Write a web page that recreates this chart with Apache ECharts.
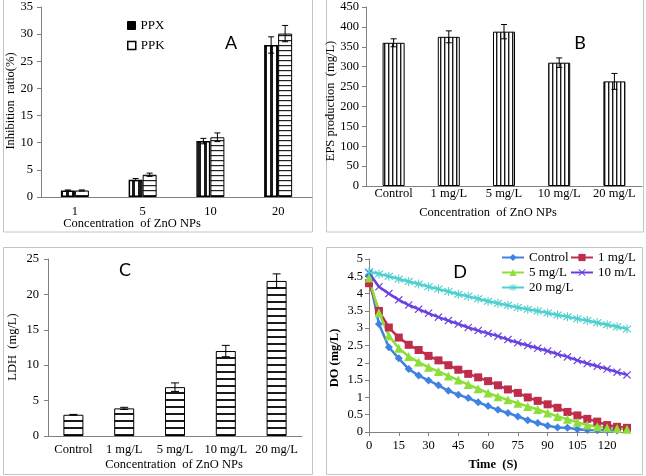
<!DOCTYPE html>
<html><head><meta charset="utf-8">
<script src="https://cdn.jsdelivr.net/npm/echarts@6/dist/echarts.min.js"></script>
<style>html,body{margin:0;padding:0;background:#fff}#c{width:646px;height:476px}</style>
</head><body><div id="c"></div>
<script>
// ---- Panel A ----
var catsA = ['1', '5', '10', '20'];
var ppx = [1.2, 3.2, 10.3, 28.0];
var ppxErr = [0.1, 0.2, 0.5, 1.5];
var ppk = [1.2, 4.1, 11.0, 30.1];
var ppkErr = [0.1, 0.3, 0.8, 1.5];
// ---- Panel B ----
var catsB = ['Control', '1 mg/L', '5 mg/L', '10 mg/L', '20 mg/L'];
var eps = [360, 375, 388, 310, 263];
var epsErr = [10, 15, 18, 12, 20];
// ---- Panel C ----
var catsC = ['Control', '1 mg/L', '5 mg/L', '10 mg/L', '20 mg/L'];
var ldh = [3.0, 3.9, 6.9, 12.0, 21.9];
var ldhErr = [0.05, 0.15, 0.6, 0.8, 1.0];
// ---- Panel D ----
var timeS = [0,5,10,15,20,25,30,35,40,45,50,55,60,65,70,75,80,85,90,95,100,105,110,115,120,125,130];
var doControl = [4.5,3.12,2.45,2.13,1.82,1.63,1.49,1.35,1.19,1.08,0.98,0.86,0.75,0.64,0.55,0.45,0.34,0.26,0.18,0.13,0.12,0.08,0.06,0.05,0.05,0.04];
var do1 = [4.3,3.5,3.02,2.73,2.52,2.37,2.2,2.07,1.93,1.8,1.68,1.58,1.47,1.35,1.23,1.13,1.0,0.9,0.8,0.7,0.58,0.48,0.38,0.3,0.2,0.15,0.12];
var do5 = [4.45,3.45,2.78,2.42,2.18,2.02,1.87,1.75,1.62,1.5,1.37,1.25,1.13,1.02,0.93,0.83,0.74,0.65,0.55,0.45,0.37,0.28,0.2,0.15,0.12,0.1,0.08];
var do10 = [4.6,4.2,4.0,3.82,3.67,3.55,3.43,3.32,3.22,3.12,3.02,2.93,2.85,2.77,2.67,2.58,2.5,2.42,2.34,2.25,2.17,2.07,1.98,1.9,1.82,1.73,1.65];
var do20 = [4.63,4.57,4.5,4.42,4.35,4.28,4.2,4.13,4.06,3.98,3.92,3.85,3.78,3.72,3.66,3.6,3.55,3.5,3.44,3.38,3.33,3.27,3.22,3.16,3.1,3.04,2.98];

var SERIF = '"Liberation Serif","Times New Roman",serif';
var SANS = 'Lato,"Liberation Sans",sans-serif';
var FS = 12.5;

function stripe(w, h, vertical, lw, col) {
  var c = document.createElement('canvas'); c.width = w; c.height = h;
  var g = c.getContext('2d'); g.fillStyle = '#fff'; g.fillRect(0, 0, w, h);
  g.fillStyle = col;
  if (vertical) g.fillRect(0, 0, lw, h); else g.fillRect(0, 0, w, lw);
  return { image: c, repeat: 'repeat' };
}
function pairs(arr) { return arr.map(function (v, i) { return [timeS[i], v]; }); }
function errData(vals, errs) { return vals.map(function (v, i) { return [i, v, errs[i]]; }); }
function errRender(offset, cap) {
  return function (params, api) {
    var i = api.value(0), v = api.value(1), e = api.value(2);
    var t = api.coord([i, v + e]), b = api.coord([i, v - e]);
    var x = t[0] + offset;
    var st = { stroke: '#000', lineWidth: 1 };
    return { type: 'group', children: [
      { type: 'line', shape: { x1: x, y1: t[1], x2: x, y2: b[1] }, style: st },
      { type: 'line', shape: { x1: x - cap, y1: t[1], x2: x + cap, y2: t[1] }, style: st },
      { type: 'line', shape: { x1: x - cap, y1: b[1], x2: x + cap, y2: b[1] }, style: st }
    ]};
  };
}

var axisCol = '#808080';
function yAx(grid, max, interval, margin) {
  return { type: 'value', gridIndex: grid, min: 0, max: max, interval: interval,
    axisLine: { show: true, lineStyle: { color: axisCol } },
    axisTick: { show: true, length: 4, lineStyle: { color: axisCol } },
    splitLine: { show: false },
    axisLabel: { color: '#000', fontFamily: SERIF, fontSize: FS, margin: margin } };
}
function xCat(grid, data, margin) {
  return { type: 'category', gridIndex: grid, data: data,
    axisLine: { show: true, lineStyle: { color: axisCol } },
    axisTick: { show: false },
    axisLabel: { color: '#000', fontFamily: SERIF, fontSize: FS, margin: margin, interval: 0 } };
}

var XSHAPE = 'path://M1,0L5,4L9,0L10,1L6,5L10,9L9,10L5,6L1,10L0,9L4,5L0,1Z';
var STAR = 'path://M1,0L5,4L9,0L10,1L6,5L10,9L9,10L5,6L1,10L0,9L4,5L0,1ZM4.4,-1H5.6V11H4.4Z';

var colD = { c: '#3f82e0', m1: '#be2d4c', m5: '#8ede3a', m10: '#6a3fe0', m20: '#4fd0cf' };

function lineS(name, data, color, symbol, size) {
  return { type: 'line', name: name, xAxisIndex: 3, yAxisIndex: 3, data: data,
    symbol: symbol, symbolSize: size, showAllSymbol: true,
    lineStyle: { color: color, width: 2.5 }, itemStyle: { color: color } };
}
function legendAt(name, left, top, extra) {
  var o = { data: [name], left: left, top: top, padding: 0, itemGap: 0,
    textStyle: { fontFamily: SERIF, fontSize: 13, color: '#000' }, selectedMode: false };
  for (var k in extra) o[k] = extra[k];
  return o;
}

var legItemD = { itemWidth: 22, itemHeight: 9 };

var chart = echarts.init(document.getElementById('c'), null, { renderer: 'canvas' });
chart.setOption({
  animation: false,
  backgroundColor: '#fff',
  grid: [
    { left: 41, top: 7, width: 271, height: 190 },
    { left: 366, top: 7, width: 276, height: 179 },
    { left: 48, top: 259, width: 254, height: 177 },
    { left: 369, top: 259, width: 258, height: 173 }
  ],
  xAxis: [
    xCat(0, catsA, 8),
    xCat(1, catsB, 1),
    xCat(2, catsC, 7),
    { type: 'value', gridIndex: 3, min: 0, max: 130, interval: 15,
      axisLine: { show: true, onZero: false, lineStyle: { color: axisCol } },
      axisTick: { show: true, length: 4, lineStyle: { color: axisCol } },
      splitLine: { show: false },
      axisLabel: { color: '#000', fontFamily: SERIF, fontSize: FS, margin: 7, showMaxLabel: false } }
  ],
  yAxis: [ yAx(0, 35, 5, 8), yAx(1, 450, 50, 7), yAx(2, 25, 5, 9), yAx(3, 5, 0.5, 6) ],
  legend: [
    { data: [{ name: 'PPX', itemStyle: { color: '#000', borderColor: '#000', borderWidth: 1 } }],
      left: 127, top: 19, padding: 0, itemWidth: 8, itemHeight: 8, icon: 'rect', selectedMode: false,
      textStyle: { fontFamily: SERIF, fontSize: 13, color: '#000' }, itemGap: 0 },
    { data: [{ name: 'PPK', itemStyle: { color: '#fff', borderColor: '#000', borderWidth: 1.5 } }],
      left: 127, top: 39, padding: 0, itemWidth: 8, itemHeight: 8, icon: 'rect', selectedMode: false,
      textStyle: { fontFamily: SERIF, fontSize: 13, color: '#000' }, itemGap: 0 },
    legendAt('Control', 501, 251, legItemD),
    legendAt('1 mg/L', 570, 251, legItemD),
    legendAt('5 mg/L', 501, 266, legItemD),
    legendAt('10 m/L', 570, 266, legItemD),
    legendAt('20 mg/L', 501, 281, legItemD)
  ],
  series: [
    { type: 'bar', name: 'PPX', xAxisIndex: 0, yAxisIndex: 0, data: ppx, barWidth: 14, barGap: '0%',
      itemStyle: { color: stripe(6, 6, true, 3, '#1a1a1a'), borderColor: '#000', borderWidth: 1.5 } },
    { type: 'bar', name: 'PPK', xAxisIndex: 0, yAxisIndex: 0, data: ppk, barWidth: 14, barGap: '0%',
      itemStyle: { color: stripe(5, 5, false, 1.2, '#222'), borderColor: '#000', borderWidth: 1 } },
    { type: 'custom', xAxisIndex: 0, yAxisIndex: 0, data: errData(ppx, ppxErr), renderItem: errRender(-7, 3), z: 5 },
    { type: 'custom', xAxisIndex: 0, yAxisIndex: 0, data: errData(ppk, ppkErr), renderItem: errRender(7, 3), z: 5 },
    { type: 'bar', name: 'EPS', xAxisIndex: 1, yAxisIndex: 1, data: eps, barWidth: 22,
      itemStyle: { color: stripe(4, 4, true, 1.4, '#1a1a1a'), borderColor: '#000', borderWidth: 1 } },
    { type: 'custom', xAxisIndex: 1, yAxisIndex: 1, data: errData(eps, epsErr), renderItem: errRender(0, 3), z: 5 },
    { type: 'bar', name: 'LDH', xAxisIndex: 2, yAxisIndex: 2, data: ldh, barWidth: 20,
      itemStyle: { color: stripe(7, 7, false, 2, '#1a1a1a'), borderColor: '#000', borderWidth: 1 } },
    { type: 'custom', xAxisIndex: 2, yAxisIndex: 2, data: errData(ldh, ldhErr), renderItem: errRender(0, 4), z: 5 },
    lineS('Control', pairs(doControl), colD.c, 'diamond', 8),
    lineS('1 mg/L', pairs(do1), colD.m1, 'rect', 8),
    lineS('5 mg/L', pairs(do5), colD.m5, 'triangle', 9),
    lineS('10 m/L', pairs(do10), colD.m10, XSHAPE, 8),
    lineS('20 mg/L', pairs(do20), colD.m20, STAR, 9)
  ],
  graphic: [
    { type: 'rect', shape: { x: 3.5, y: -2, width: 309, height: 234 }, style: { fill: 'none', stroke: '#c4c4c4', lineWidth: 1 }, z: -1 },
    { type: 'rect', shape: { x: 326.5, y: -2, width: 317, height: 234 }, style: { fill: 'none', stroke: '#c4c4c4', lineWidth: 1 }, z: -1 },
    { type: 'rect', shape: { x: 3.5, y: 247.5, width: 309, height: 227 }, style: { fill: 'none', stroke: '#c4c4c4', lineWidth: 1 }, z: -1 },
    { type: 'rect', shape: { x: 326.5, y: 247.5, width: 316, height: 227 }, style: { fill: 'none', stroke: '#c4c4c4', lineWidth: 1 }, z: -1 },
    { type: 'text', x: 132, y: 224, style: { text: 'Concentration  of ZnO NPs', font: FS + 'px ' + SERIF, fill: '#000', textAlign: 'center', textVerticalAlign: 'middle' } },
    { type: 'text', x: 488, y: 213, style: { text: 'Concentration  of ZnO NPs', font: FS + 'px ' + SERIF, fill: '#000', textAlign: 'center', textVerticalAlign: 'middle' } },
    { type: 'text', x: 174, y: 465, style: { text: 'Concentration  of ZnO NPs', font: FS + 'px ' + SERIF, fill: '#000', textAlign: 'center', textVerticalAlign: 'middle' } },
    { type: 'text', x: 493, y: 465, style: { text: 'Time  (S)', font: 'bold ' + FS + 'px ' + SERIF, fill: '#000', textAlign: 'center', textVerticalAlign: 'middle' } },
    { type: 'text', x: 11, y: 101, rotation: Math.PI / 2, style: { text: 'Inhibition  ratio(%)', font: FS + 'px ' + SERIF, fill: '#000', textAlign: 'center', textVerticalAlign: 'middle' } },
    { type: 'text', x: 331, y: 101, rotation: Math.PI / 2, style: { text: 'EPS production  (mg/L)', font: FS + 'px ' + SERIF, fill: '#000', textAlign: 'center', textVerticalAlign: 'middle' } },
    { type: 'text', x: 13, y: 347, rotation: Math.PI / 2, style: { text: 'LDH  (mg/L)', font: FS + 'px ' + SERIF, fill: '#000', textAlign: 'center', textVerticalAlign: 'middle' } },
    { type: 'text', x: 335, y: 358, rotation: Math.PI / 2, style: { text: 'DO (mg/L)', font: 'bold ' + FS + 'px ' + SERIF, fill: '#000', textAlign: 'center', textVerticalAlign: 'middle' } },
    { type: 'text', x: 231, y: 43, style: { text: 'A', font: '18px ' + SANS, fill: '#000', textAlign: 'center', textVerticalAlign: 'middle' } },
    { type: 'text', x: 580, y: 43, style: { text: 'B', font: '18px ' + SANS, fill: '#000', textAlign: 'center', textVerticalAlign: 'middle' } },
    { type: 'text', x: 125, y: 270, style: { text: 'C', font: '18px ' + SANS, fill: '#000', textAlign: 'center', textVerticalAlign: 'middle' } },
    { type: 'text', x: 460, y: 272, style: { text: 'D', font: '18px ' + SANS, fill: '#000', textAlign: 'center', textVerticalAlign: 'middle' } }
  ]
});
</script></body></html>
